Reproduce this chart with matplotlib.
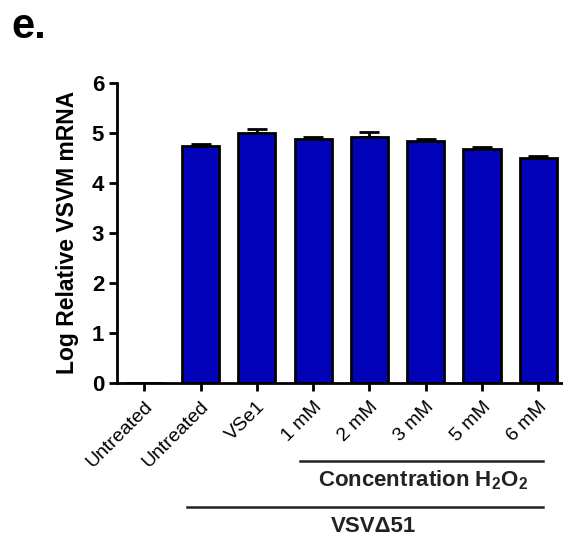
import matplotlib
matplotlib.use("Agg")
import matplotlib.pyplot as plt
import numpy as np

categories = ["Untreated", "Untreated", "VSe1", "1 mM", "2 mM", "3 mM", "5 mM", "6 mM"]
values = [0.0, 4.74, 5.00, 4.87, 4.92, 4.84, 4.67, 4.50]
errors = [0.0, 0.04, 0.08, 0.04, 0.09, 0.03, 0.04, 0.04]
yticks = [0, 1, 2, 3, 4, 5, 6]

plt.rcParams['font.family'] = ['Liberation Sans', 'DejaVu Sans']
plt.rcParams['mathtext.fontset'] = 'custom'
plt.rcParams['mathtext.rm'] = 'Liberation Sans:bold'
plt.rcParams['mathtext.bf'] = 'Liberation Sans:bold'
plt.rcParams['mathtext.default'] = 'bf'

W, H = 563, 540
fig = plt.figure(figsize=(W/100, H/100), dpi=100)
ax_left, ax_right = 116.7/W, 1.0
ax_bottom, ax_top = 1 - 382.7/H, 1 - 82.7/H
ax = fig.add_axes([ax_left, ax_bottom, ax_right-ax_left, ax_top-ax_bottom])

x = np.arange(len(categories))
ax.bar(x, values, width=0.66, color='#0202B8', edgecolor='black', linewidth=2.0, zorder=2)
ax.errorbar(x[1:], values[1:], yerr=[np.zeros(len(x)-1), errors[1:]], fmt='none',
            ecolor='black', elinewidth=2.0, capsize=7, capthick=2.0, zorder=1)

ax.set_xlim(-0.49, 7.44)
ax.set_ylim(0, 6)
ax.set_yticks(yticks)
ax.set_yticklabels([str(t) for t in yticks], fontsize=16, fontweight='bold')
ax.set_xticks(x)
ax.set_xticklabels(categories, rotation=45, ha='right', va='top', fontsize=14,
                   rotation_mode='anchor')
for s in ['top', 'right']:
    ax.spines[s].set_visible(False)
for s in ['left', 'bottom']:
    ax.spines[s].set_linewidth(2.0)
ax.tick_params(axis='both', direction='out', length=6, width=2.0)
ax.tick_params(axis='x', pad=5)
ax.tick_params(axis='y', pad=3)
ax.set_ylabel("Log Relative VSVM mRNA", fontsize=16.5, fontweight='bold', labelpad=9)

fig.add_artist(plt.Line2D([300/W, 543/W], [1-461/H, 1-461/H], color='#222222', lw=1.8))
fig.text(423/W, 1-480/H, r"Concentration H$_2$O$_2$", ha='center', va='center',
         fontsize=16, fontweight='bold', color='#222222')
fig.add_artist(plt.Line2D([187/W, 543/W], [1-506.7/H, 1-506.7/H], color='#222222', lw=1.8))
fig.text(373/W, 1-527/H, "VSV\u039451", ha='center', va='center',
         fontsize=16, fontweight='bold', color='#222222')

fig.text(11/W, 1-27/H, "e.", ha='left', va='center', fontsize=30, fontweight='bold')

fig.savefig("out.png", dpi=100)
